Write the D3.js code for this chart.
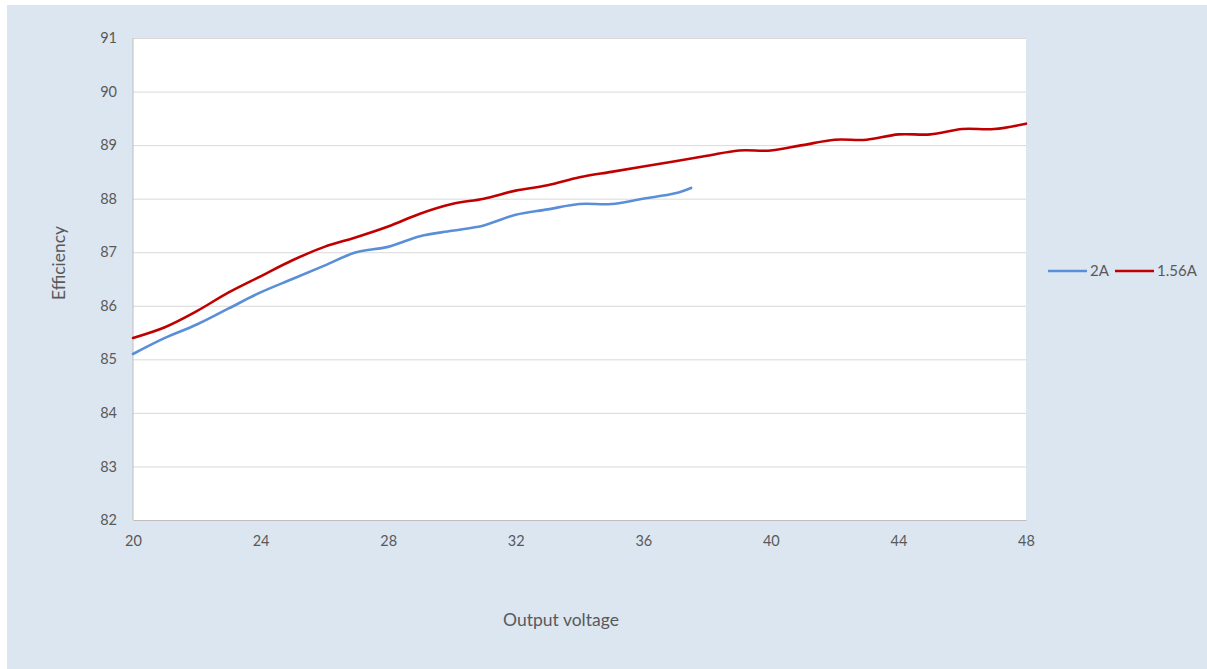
<!DOCTYPE html>
<html>
<head>
<meta charset="utf-8">
<script src="https://cdn.jsdelivr.net/npm/d3@7"></script>
<style>
  html, body { margin: 0; padding: 0; background: #ffffff; }
  svg { display: block; }
  text { font-family: Lato, "Open Sans", sans-serif; fill: #595959; }
</style>
</head>
<body>
<svg id="chart" width="1207" height="669"></svg>
<script>
// Output voltage (V) and measured efficiency (%) for two load currents
const voltage2A   = [20, 21, 22, 23, 24, 25, 26, 27, 28, 29, 30, 31, 32, 33, 34, 35, 36, 37, 37.5];
const eff2A       = [85.1, 85.4, 85.65, 85.95, 86.25, 86.5, 86.75, 87.0, 87.1, 87.3, 87.4, 87.5, 87.7, 87.8, 87.9, 87.9, 88.0, 88.1, 88.2];
const voltage156A = [20, 21, 22, 23, 24, 25, 26, 27, 28, 29, 30, 31, 32, 33, 34, 35, 36, 37, 38, 39, 40, 41, 42, 43, 44, 45, 46, 47, 48];
const eff156A     = [85.4, 85.6, 85.9, 86.25, 86.55, 86.85, 87.1, 87.28, 87.48, 87.72, 87.9, 88.0, 88.15, 88.25, 88.4, 88.5, 88.6, 88.7, 88.8, 88.9, 88.9, 89.0, 89.1, 89.1, 89.2, 89.2, 89.3, 89.3, 89.4];

const xTicks = [20, 24, 28, 32, 36, 40, 44, 48];
const yTicks = [82, 83, 84, 85, 86, 87, 88, 89, 90, 91];
const seriesNames = ["2A", "1.56A"];
const seriesColors = ["#5a8fd8", "#c00000"];

const svg = d3.select("#chart");

// chart background
svg.append("rect").attr("x", 7).attr("y", 5).attr("width", 1200).attr("height", 664).attr("fill", "#dce6f1");

const plot = { left: 133, top: 38, right: 1026, bottom: 520 };

const x = d3.scaleLinear().domain([20, 48]).range([plot.left, plot.right]);
const y = d3.scaleLinear().domain([82, 91]).range([plot.bottom, plot.top]);

// plot area
svg.append("rect")
  .attr("x", plot.left).attr("y", plot.top)
  .attr("width", plot.right - plot.left).attr("height", plot.bottom - plot.top)
  .attr("fill", "#ffffff");

// horizontal gridlines and value labels
const yAxis = d3.axisLeft(y).tickValues(yTicks).tickSize(-(plot.right - plot.left)).tickPadding(16).tickFormat(d3.format("d"));
const gy = svg.append("g").attr("transform", `translate(${plot.left},0)`).call(yAxis);
gy.select(".domain").remove();
gy.selectAll(".tick line").attr("stroke", "#d9d9d9").attr("stroke-width", 1);
gy.selectAll(".tick text").attr("font-size", 14.5).attr("fill", "#595959").style("font-family", "Lato, 'Open Sans', sans-serif");

// vertical axis line
svg.append("line").attr("x1", plot.left).attr("x2", plot.left).attr("y1", plot.top).attr("y2", plot.bottom)
  .attr("stroke", "#bfbfbf").attr("stroke-width", 1);

// horizontal axis
const xAxis = d3.axisBottom(x).tickValues(xTicks).tickSize(0).tickPadding(16).tickFormat(d3.format("d"));
const gx = svg.append("g").attr("transform", `translate(0,${plot.bottom})`).call(xAxis);
gx.select(".domain").attr("stroke", "#bfbfbf");
gx.selectAll(".tick text").attr("font-size", 14.5).attr("fill", "#595959").style("font-family", "Lato, 'Open Sans', sans-serif");

// series lines
const line = d3.line().x(d => x(d[0])).y(d => y(d[1])).curve(d3.curveCatmullRom.alpha(0.5));
const series = [
  d3.zip(voltage2A, eff2A),
  d3.zip(voltage156A, eff156A)
];
series.forEach((s, i) => {
  svg.append("path").datum(s)
    .attr("d", line)
    .attr("fill", "none")
    .attr("stroke", seriesColors[i])
    .attr("stroke-width", 2.6)
    .attr("stroke-linecap", "round")
    .attr("stroke-linejoin", "round");
});

// axis titles
svg.append("text").attr("x", 561).attr("y", 626).attr("text-anchor", "middle")
  .attr("font-size", 17.5).text("Output voltage");
svg.append("text").attr("transform", "translate(65,263) rotate(-90)").attr("text-anchor", "middle")
  .attr("font-size", 17.5).text("Efficiency");

// legend
const legend = [{ x: 1048 }, { x: 1115 }];
legend.forEach((l, i) => {
  svg.append("line").attr("x1", l.x).attr("x2", l.x + 39).attr("y1", 271).attr("y2", 271)
    .attr("stroke", seriesColors[i]).attr("stroke-width", 2.6);
  svg.append("text").attr("x", l.x + 42).attr("y", 276).attr("font-size", 15).text(seriesNames[i]);
});
</script>
</body>
</html>
